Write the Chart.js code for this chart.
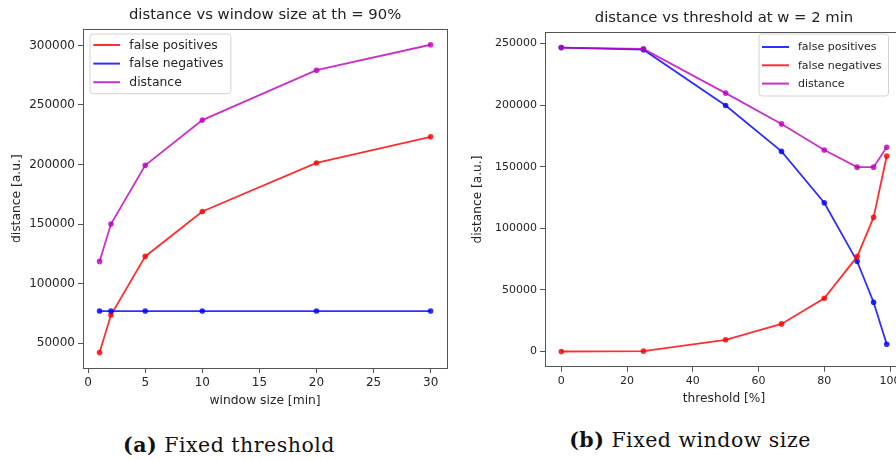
<!DOCTYPE html>
<html><head><meta charset="utf-8">
<script src="https://cdn.jsdelivr.net/npm/chart.js@4"></script>
<style>
html,body{margin:0;padding:0;background:#fff;width:896px;height:460px;overflow:hidden;}
#wrap{position:relative;width:896px;height:460px;overflow:hidden;background:#fff;}
#c1{position:absolute;left:0;top:0;}
#c2{position:absolute;left:450px;top:0;}
.cap{position:absolute;font-family:"DejaVu Serif",serif;font-size:20.5px;letter-spacing:0.5px;color:#111;white-space:nowrap;transform:translate(-50%,-50%);line-height:1;}
.cap b{font-weight:bold;}
</style></head><body>
<div id="wrap">
<canvas id="c1" width="450" height="420"></canvas>
<canvas id="c2" width="460" height="420"></canvas>
<div class="cap" style="left:229px;top:445px"><b>(a)</b> Fixed threshold</div>
<div class="cap" style="left:690px;top:440px"><b>(b)</b> Fixed window size</div>
</div>
<script>
// ---- data: chart (a) fixed threshold ----
const windowSizes = [1, 2, 5, 10, 20, 30];
const wFalsePositives = [42000, 73600, 122800, 160500, 201300, 223300];
const wFalseNegatives = [76900, 76900, 76900, 76900, 76900, 76900];
const wDistance = [118600, 150000, 199400, 237300, 279200, 300600];
const windowTicks = [0, 5, 10, 15, 20, 25, 30];
const windowDistTicks = [50000, 100000, 150000, 200000, 250000, 300000];

// ---- data: chart (b) fixed window size ----
const thresholds = [0, 25, 50, 67, 80, 90, 95, 99];
const tFalsePositives = [246800, 245100, 199700, 162500, 120800, 73200, 40000, 5900];
const tFalseNegatives = [0, 300, 9500, 22400, 43200, 77000, 108900, 158700];
const tDistance = [246800, 245700, 209800, 184800, 163600, 149700, 149700, 165800];
const thresholdTicks = [0, 20, 40, 60, 80, 100];
const thresholdDistTicks = [0, 50000, 100000, 150000, 200000, 250000];

const RED = 'rgba(255,0,0,0.82)';
const BLUE = 'rgba(0,0,255,0.82)';
const MAG = 'rgba(191,0,191,0.82)';
const FONT = '"DejaVu Sans", sans-serif';

function limits(arrs) {
  const all = [].concat(...arrs);
  const lo = Math.min(...all), hi = Math.max(...all), m = (hi - lo) * 0.05;
  return [lo - m, hi + m];
}

const frame = {
  id: 'frame',
  afterDatasetsDraw(chart) {
    const {ctx, chartArea: a} = chart;
    ctx.save();
    ctx.strokeStyle = '#555';
    ctx.lineWidth = 1;
    ctx.strokeRect(Math.round(a.left) + 0.5, Math.round(a.top) + 0.5, Math.round(a.right - a.left), Math.round(a.bottom - a.top));
    ctx.restore();
  }
};

const insideLegend = {
  id: 'insideLegend',
  afterDraw(chart, args, o) {
    const ctx = chart.ctx;
    const ds = chart.data.datasets;
    ctx.save();
    ctx.font = o.fontSize + 'px ' + FONT;
    let tw = 0;
    ds.forEach(d => { tw = Math.max(tw, ctx.measureText(d.label).width); });
    const w = o.padLeft + o.lineLen + o.gap + tw + o.padRight;
    const h = o.firstRow + o.rowH * (ds.length - 1) + o.lastPad;
    const x = o.x, y = o.y, r = 3;
    ctx.beginPath();
    ctx.moveTo(x + r, y);
    ctx.arcTo(x + w, y, x + w, y + h, r);
    ctx.arcTo(x + w, y + h, x, y + h, r);
    ctx.arcTo(x, y + h, x, y, r);
    ctx.arcTo(x, y, x + w, y, r);
    ctx.closePath();
    ctx.fillStyle = 'rgba(255,255,255,0.85)';
    ctx.fill();
    ctx.strokeStyle = '#d4d4d4';
    ctx.lineWidth = 1;
    ctx.stroke();
    ds.forEach((d, i) => {
      const cy = y + o.firstRow + i * o.rowH;
      ctx.beginPath();
      ctx.strokeStyle = d.borderColor;
      ctx.lineWidth = 2;
      ctx.moveTo(x + o.padLeft, cy);
      ctx.lineTo(x + o.padLeft + o.lineLen, cy);
      ctx.stroke();
      ctx.fillStyle = '#262626';
      ctx.textBaseline = 'middle';
      ctx.textAlign = 'left';
      ctx.fillText(d.label, x + o.padLeft + o.lineLen + o.gap, cy + 0.5);
    });
    ctx.restore();
  }
};

function makeChart(canvas, c) {
  const [xmin, xmax] = limits([c.x]);
  const [ymin, ymax] = limits(c.series.map(s => s.values));
  const n = c.series.length;
  const axisCommon = (size) => ({
    type: 'linear',
    grid: {drawOnChartArea: false, drawTicks: true, tickLength: 5, color: '#555', lineWidth: 1},
    border: {display: true, color: '#555', width: 1},
    ticks: {font: {family: FONT, size: size}, color: '#262626', padding: 3, maxRotation: 0, autoSkip: false,
            callback: v => String(v)}
  });
  const xs = axisCommon(c.tickSize);
  Object.assign(xs, {
    min: xmin, max: xmax,
    afterBuildTicks: s => { s.ticks = c.xTicks.map(v => ({value: v})); },
    afterFit: s => { s.height = c.xAxisH; },
    title: {display: true, text: c.xLabel, font: {family: FONT, size: c.labelSize}, color: '#262626', padding: {top: 0, bottom: c.xTitlePad}}
  });
  const ys = axisCommon(c.tickSize);
  Object.assign(ys, {
    min: ymin, max: ymax,
    afterBuildTicks: s => { s.ticks = c.yTicks.map(v => ({value: v})); },
    afterFit: s => { s.width = c.yAxisW; },
    title: {display: true, text: c.yLabel, font: {family: FONT, size: c.labelSize}, color: '#262626', padding: {top: c.yTitlePad, bottom: 0}}
  });
  return new Chart(canvas, {
    type: 'line',
    data: {
      datasets: c.series.map((s, i) => ({
        label: s.label,
        data: c.x.map((v, k) => ({x: v, y: s.values[k]})),
        borderColor: s.color, backgroundColor: s.color,
        borderWidth: 1.8, pointRadius: 2.8, pointBorderWidth: 0, pointHoverRadius: 2.8,
        tension: 0, fill: false, order: n - i
      }))
    },
    options: {
      responsive: false, animation: false, events: [],
      layout: {padding: {left: 0, right: c.padRight, top: 0, bottom: 0}},
      plugins: {
        legend: {display: false}, tooltip: {enabled: false},
        title: {display: true, text: c.title, fullSize: false, font: {family: FONT, size: 14.8, weight: 'normal'}, color: '#222',
                padding: {top: c.titlePadTop, bottom: 5.3}},
        insideLegend: c.legend
      },
      scales: {x: xs, y: ys}
    },
    plugins: [frame, insideLegend]
  });
}

makeChart(document.getElementById('c1'), {
  title: 'distance vs window size at th = 90%',
  xLabel: 'window size [min]', yLabel: 'distance [a.u.]',
  x: windowSizes, xTicks: windowTicks, yTicks: windowDistTicks,
  series: [
    {label: 'false positives', values: wFalsePositives, color: RED},
    {label: 'false negatives', values: wFalseNegatives, color: BLUE},
    {label: 'distance', values: wDistance, color: MAG}
  ],
  tickSize: 12, labelSize: 12.3, xAxisH: 52, yAxisW: 83, padRight: 2, titlePadTop: 6.3,
  xTitlePad: 12, yTitlePad: 9,
  legend: {x: 90, y: 34, fontSize: 12.4, padLeft: 3.3, lineLen: 26.7, gap: 9.3, padRight: 7.5, firstRow: 11, rowH: 18.6, lastPad: 11.5}
});

makeChart(document.getElementById('c2'), {
  title: 'distance vs threshold at w = 2 min',
  xLabel: 'threshold [%]', yLabel: 'distance [a.u.]',
  x: thresholds, xTicks: thresholdTicks, yTicks: thresholdDistTicks,
  series: [
    {label: 'false positives', values: tFalsePositives, color: BLUE},
    {label: 'false negatives', values: tFalseNegatives, color: RED},
    {label: 'distance', values: tDistance, color: MAG}
  ],
  tickSize: 11, labelSize: 12.2, xAxisH: 53.3, yAxisW: 95, padRight: 7, titlePadTop: 9.3,
  xTitlePad: 13.8, yTitlePad: 20.8,
  legend: {x: 309, y: 34, fontSize: 11, padLeft: 3, lineLen: 27, gap: 9, padRight: 7, firstRow: 13, rowH: 18.3, lastPad: 12.4}
});
</script>
</body></html>
